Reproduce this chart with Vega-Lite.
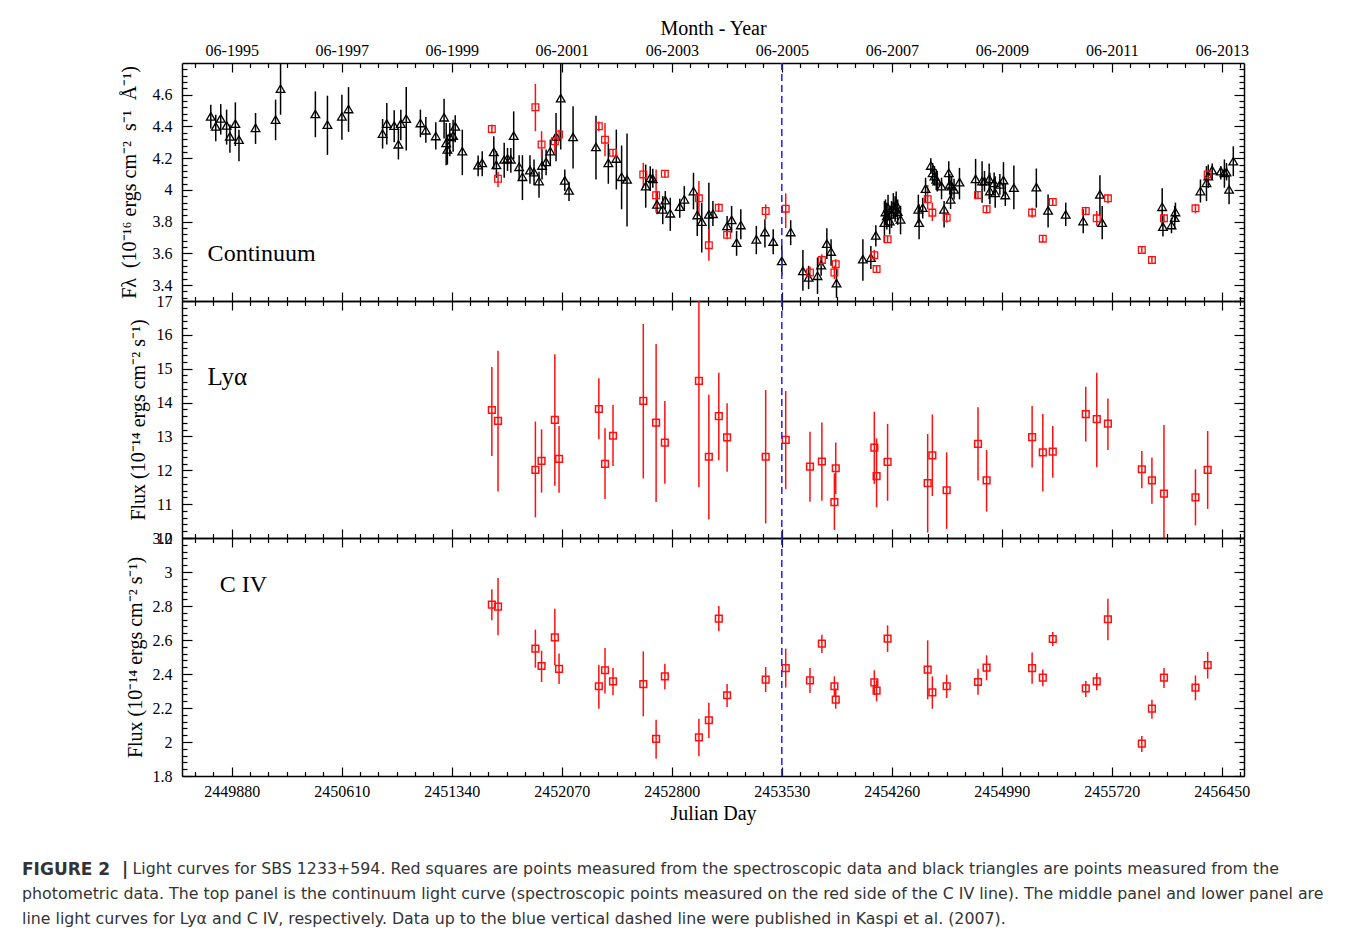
{
"$schema": "https://vega.github.io/schema/vega-lite/v6.json",
"background": "white",
"padding": {"left": 22, "top": 18, "right": 0, "bottom": 0},
"spacing": 0,
"bounds": "flush",
"config": {
  "view": {"stroke": null},
  "axis": {"domainColor": "black", "tickColor": "black", "labelColor": "black", "titleColor": "black", "labelFont": "Liberation Serif", "titleFont": "Liberation Serif", "labelFontSize": 16, "titleFontSize": 20, "titleFontWeight": "normal", "grid": false, "domainWidth": 1.5, "tickWidth": 1.2, "labelOverlap": false, "labelBound": false, "labelFlush": false}
},
"title": {
  "text": "FIGURE 2\u00a0\u00a0|",
  "subtitle": ["\u2060\u00a0\u00a0\u00a0\u00a0\u00a0\u00a0\u00a0\u00a0\u00a0\u00a0\u00a0\u00a0\u00a0\u00a0\u00a0\u00a0\u00a0\u00a0\u00a0\u00a0\u00a0\u00a0Light curves for SBS 1233+594. Red squares are points measured from the spectroscopic data and black triangles are points measured from the", "photometric data. The top panel is the continuum light curve (spectroscopic points measured on the red side of the C IV line). The middle panel and lower panel are", "line light curves for Ly\u03b1 and C IV, respectively. Data up to the blue vertical dashed line were published in Kaspi et al. (2007)."],
  "orient": "bottom", "anchor": "start", "frame": "bounds",
  "font": "DejaVu Sans", "fontSize": 17, "fontWeight": "bold", "color": "#333333",
  "subtitleFont": "DejaVu Sans", "subtitleFontSize": 15.8, "subtitleColor": "#333333", "subtitleLineHeight": 25, "subtitleFontWeight": "normal",
  "subtitlePadding": -17, "offset": 39, "dx": -97
},
"datasets": {
  "cont": [
{"jd":2449741,"f":4.464,"lo":4.387,"hi":4.537,"s":"phot"},
{"jd":2449774,"f":4.401,"lo":4.307,"hi":4.474,"s":"phot"},
{"jd":2449807,"f":4.451,"lo":4.349,"hi":4.541,"s":"phot"},
{"jd":2449846,"f":4.407,"lo":4.286,"hi":4.506,"s":"phot"},
{"jd":2449868,"f":4.338,"lo":4.234,"hi":4.412,"s":"phot"},
{"jd":2449904,"f":4.418,"lo":4.276,"hi":4.552,"s":"phot"},
{"jd":2449928,"f":4.317,"lo":4.181,"hi":4.380,"s":"phot"},
{"jd":2450038,"f":4.391,"lo":4.290,"hi":4.485,"s":"phot"},
{"jd":2450171,"f":4.443,"lo":4.313,"hi":4.569,"s":"phot"},
{"jd":2450204,"f":4.638,"lo":4.474,"hi":4.800,"s":"phot"},
{"jd":2450435,"f":4.479,"lo":4.332,"hi":4.621,"s":"phot"},
{"jd":2450515,"f":4.412,"lo":4.221,"hi":4.594,"s":"phot"},
{"jd":2450611,"f":4.464,"lo":4.317,"hi":4.600,"s":"phot"},
{"jd":2450655,"f":4.510,"lo":4.366,"hi":4.648,"s":"phot"},
{"jd":2450881,"f":4.355,"lo":4.261,"hi":4.447,"s":"phot"},
{"jd":2450909,"f":4.418,"lo":4.286,"hi":4.548,"s":"phot"},
{"jd":2450958,"f":4.405,"lo":4.301,"hi":4.502,"s":"phot"},
{"jd":2450986,"f":4.288,"lo":4.192,"hi":4.380,"s":"phot"},
{"jd":2451002,"f":4.418,"lo":4.313,"hi":4.506,"s":"phot"},
{"jd":2451038,"f":4.449,"lo":4.248,"hi":4.648,"s":"phot"},
{"jd":2451132,"f":4.422,"lo":4.332,"hi":4.506,"s":"phot"},
{"jd":2451168,"f":4.376,"lo":4.297,"hi":4.460,"s":"phot"},
{"jd":2451234,"f":4.340,"lo":4.255,"hi":4.426,"s":"phot"},
{"jd":2451289,"f":4.458,"lo":4.324,"hi":4.575,"s":"phot"},
{"jd":2451303,"f":4.296,"lo":4.156,"hi":4.422,"s":"phot"},
{"jd":2451311,"f":4.255,"lo":4.160,"hi":4.349,"s":"phot"},
{"jd":2451327,"f":4.334,"lo":4.213,"hi":4.422,"s":"phot"},
{"jd":2451349,"f":4.342,"lo":4.240,"hi":4.443,"s":"phot"},
{"jd":2451363,"f":4.401,"lo":4.301,"hi":4.470,"s":"phot"},
{"jd":2451410,"f":4.244,"lo":4.093,"hi":4.380,"s":"phot"},
{"jd":2451515,"f":4.156,"lo":4.087,"hi":4.217,"s":"phot"},
{"jd":2451542,"f":4.171,"lo":4.087,"hi":4.244,"s":"phot"},
{"jd":2451619,"f":4.240,"lo":4.129,"hi":4.338,"s":"phot"},
{"jd":2451636,"f":4.158,"lo":4.077,"hi":4.244,"s":"phot"},
{"jd":2451688,"f":4.192,"lo":4.077,"hi":4.297,"s":"phot"},
{"jd":2451710,"f":4.198,"lo":4.119,"hi":4.265,"s":"phot"},
{"jd":2451732,"f":4.192,"lo":4.108,"hi":4.265,"s":"phot"},
{"jd":2451751,"f":4.342,"lo":4.192,"hi":4.495,"s":"phot"},
{"jd":2451787,"f":4.146,"lo":4.066,"hi":4.219,"s":"phot"},
{"jd":2451809,"f":4.083,"lo":3.936,"hi":4.219,"s":"phot"},
{"jd":2451859,"f":4.125,"lo":4.039,"hi":4.219,"s":"phot"},
{"jd":2451886,"f":4.112,"lo":4.031,"hi":4.192,"s":"phot"},
{"jd":2451919,"f":4.056,"lo":3.951,"hi":4.114,"s":"phot"},
{"jd":2451939,"f":4.154,"lo":4.066,"hi":4.255,"s":"phot"},
{"jd":2451966,"f":4.177,"lo":4.093,"hi":4.255,"s":"phot"},
{"jd":2451994,"f":4.244,"lo":4.156,"hi":4.317,"s":"phot"},
{"jd":2452032,"f":4.338,"lo":4.181,"hi":4.485,"s":"phot"},
{"jd":2452063,"f":4.579,"lo":4.255,"hi":4.800,"s":"phot"},
{"jd":2452090,"f":4.060,"lo":3.993,"hi":4.129,"s":"phot"},
{"jd":2452118,"f":3.997,"lo":3.930,"hi":4.052,"s":"phot"},
{"jd":2452145,"f":4.334,"lo":4.135,"hi":4.527,"s":"phot"},
{"jd":2452297,"f":4.271,"lo":4.066,"hi":4.468,"s":"phot"},
{"jd":2452379,"f":4.171,"lo":4.039,"hi":4.290,"s":"phot"},
{"jd":2452432,"f":4.198,"lo":4.003,"hi":4.380,"s":"phot"},
{"jd":2452467,"f":4.083,"lo":3.878,"hi":4.280,"s":"phot"},
{"jd":2452503,"f":4.066,"lo":3.769,"hi":4.355,"s":"phot"},
{"jd":2452627,"f":4.024,"lo":3.888,"hi":4.160,"s":"phot"},
{"jd":2452657,"f":4.077,"lo":3.993,"hi":4.150,"s":"phot"},
{"jd":2452674,"f":4.070,"lo":4.014,"hi":4.133,"s":"phot"},
{"jd":2452702,"f":3.909,"lo":3.846,"hi":3.993,"s":"phot"},
{"jd":2452740,"f":3.878,"lo":3.784,"hi":3.961,"s":"phot"},
{"jd":2452757,"f":3.936,"lo":3.878,"hi":3.993,"s":"phot"},
{"jd":2452790,"f":3.853,"lo":3.742,"hi":3.951,"s":"phot"},
{"jd":2452853,"f":3.895,"lo":3.825,"hi":3.945,"s":"phot"},
{"jd":2452883,"f":3.941,"lo":3.867,"hi":4.024,"s":"phot"},
{"jd":2452944,"f":3.993,"lo":3.878,"hi":4.108,"s":"phot"},
{"jd":2452969,"f":3.842,"lo":3.710,"hi":3.982,"s":"phot"},
{"jd":2452999,"f":3.800,"lo":3.606,"hi":3.920,"s":"phot"},
{"jd":2453046,"f":3.846,"lo":3.668,"hi":4.045,"s":"phot"},
{"jd":2453073,"f":3.850,"lo":3.773,"hi":3.930,"s":"phot"},
{"jd":2453167,"f":3.773,"lo":3.710,"hi":3.836,"s":"phot"},
{"jd":2453197,"f":3.811,"lo":3.731,"hi":3.899,"s":"phot"},
{"jd":2453230,"f":3.668,"lo":3.585,"hi":3.742,"s":"phot"},
{"jd":2453258,"f":3.779,"lo":3.689,"hi":3.878,"s":"phot"},
{"jd":2453361,"f":3.689,"lo":3.595,"hi":3.773,"s":"phot"},
{"jd":2453418,"f":3.735,"lo":3.637,"hi":3.815,"s":"phot"},
{"jd":2453473,"f":3.675,"lo":3.595,"hi":3.752,"s":"phot"},
{"jd":2453530,"f":3.553,"lo":3.460,"hi":3.650,"s":"phot"},
{"jd":2453589,"f":3.735,"lo":3.652,"hi":3.809,"s":"phot"},
{"jd":2453670,"f":3.490,"lo":3.365,"hi":3.622,"s":"phot"},
{"jd":2453708,"f":3.449,"lo":3.375,"hi":3.522,"s":"phot"},
{"jd":2453767,"f":3.459,"lo":3.344,"hi":3.574,"s":"phot"},
{"jd":2453791,"f":3.526,"lo":3.459,"hi":3.585,"s":"phot"},
{"jd":2453829,"f":3.662,"lo":3.564,"hi":3.758,"s":"phot"},
{"jd":2453857,"f":3.612,"lo":3.522,"hi":3.689,"s":"phot"},
{"jd":2453893,"f":3.413,"lo":3.320,"hi":3.501,"s":"phot"},
{"jd":2454068,"f":3.564,"lo":3.428,"hi":3.689,"s":"phot"},
{"jd":2454121,"f":3.574,"lo":3.501,"hi":3.647,"s":"phot"},
{"jd":2454154,"f":3.714,"lo":3.643,"hi":3.777,"s":"phot"},
{"jd":2454211,"f":3.794,"lo":3.668,"hi":3.930,"s":"phot"},
{"jd":2454218,"f":3.861,"lo":3.780,"hi":3.940,"s":"phot"},
{"jd":2454227,"f":3.836,"lo":3.750,"hi":3.920,"s":"phot"},
{"jd":2454235,"f":3.888,"lo":3.810,"hi":3.970,"s":"phot"},
{"jd":2454246,"f":3.804,"lo":3.720,"hi":3.890,"s":"phot"},
{"jd":2454258,"f":3.846,"lo":3.760,"hi":3.930,"s":"phot"},
{"jd":2454270,"f":3.899,"lo":3.820,"hi":3.980,"s":"phot"},
{"jd":2454282,"f":3.878,"lo":3.800,"hi":3.960,"s":"phot"},
{"jd":2454289,"f":3.909,"lo":3.830,"hi":3.990,"s":"phot"},
{"jd":2454299,"f":3.863,"lo":3.780,"hi":3.940,"s":"phot"},
{"jd":2454318,"f":3.815,"lo":3.720,"hi":3.900,"s":"phot"},
{"jd":2454436,"f":3.878,"lo":3.790,"hi":3.970,"s":"phot"},
{"jd":2454441,"f":3.794,"lo":3.689,"hi":3.909,"s":"phot"},
{"jd":2454465,"f":3.888,"lo":3.820,"hi":3.950,"s":"phot"},
{"jd":2454484,"f":4.008,"lo":3.920,"hi":4.077,"s":"phot"},
{"jd":2454519,"f":4.154,"lo":4.100,"hi":4.200,"s":"phot"},
{"jd":2454531,"f":4.108,"lo":4.050,"hi":4.170,"s":"phot"},
{"jd":2454543,"f":4.087,"lo":4.030,"hi":4.150,"s":"phot"},
{"jd":2454555,"f":4.066,"lo":4.000,"hi":4.130,"s":"phot"},
{"jd":2454562,"f":4.056,"lo":3.990,"hi":4.120,"s":"phot"},
{"jd":2454590,"f":4.024,"lo":3.941,"hi":4.077,"s":"phot"},
{"jd":2454607,"f":3.878,"lo":3.763,"hi":3.930,"s":"phot"},
{"jd":2454638,"f":4.108,"lo":4.030,"hi":4.180,"s":"phot"},
{"jd":2454645,"f":4.035,"lo":3.970,"hi":4.100,"s":"phot"},
{"jd":2454650,"f":3.941,"lo":3.880,"hi":4.000,"s":"phot"},
{"jd":2454657,"f":4.024,"lo":3.960,"hi":4.090,"s":"phot"},
{"jd":2454673,"f":4.003,"lo":3.940,"hi":4.070,"s":"phot"},
{"jd":2454709,"f":4.049,"lo":3.941,"hi":4.139,"s":"phot"},
{"jd":2454816,"f":4.070,"lo":3.941,"hi":4.196,"s":"phot"},
{"jd":2454859,"f":4.056,"lo":3.920,"hi":4.181,"s":"phot"},
{"jd":2454875,"f":4.056,"lo":3.990,"hi":4.120,"s":"phot"},
{"jd":2454906,"f":4.070,"lo":3.941,"hi":4.167,"s":"phot"},
{"jd":2454911,"f":3.993,"lo":3.909,"hi":4.108,"s":"phot"},
{"jd":2454939,"f":4.045,"lo":3.980,"hi":4.110,"s":"phot"},
{"jd":2454946,"f":3.982,"lo":3.888,"hi":4.087,"s":"phot"},
{"jd":2454977,"f":4.035,"lo":3.970,"hi":4.100,"s":"phot"},
{"jd":2455001,"f":4.062,"lo":3.961,"hi":4.175,"s":"phot"},
{"jd":2455013,"f":3.968,"lo":3.899,"hi":4.045,"s":"phot"},
{"jd":2455070,"f":4.014,"lo":3.878,"hi":4.154,"s":"phot"},
{"jd":2455219,"f":4.018,"lo":3.888,"hi":4.135,"s":"phot"},
{"jd":2455297,"f":3.871,"lo":3.763,"hi":3.972,"s":"phot"},
{"jd":2455414,"f":3.846,"lo":3.773,"hi":3.920,"s":"phot"},
{"jd":2455530,"f":3.804,"lo":3.727,"hi":3.878,"s":"phot"},
{"jd":2455641,"f":3.972,"lo":3.836,"hi":4.093,"s":"phot"},
{"jd":2455656,"f":3.794,"lo":3.689,"hi":3.899,"s":"phot"},
{"jd":2456054,"f":3.894,"lo":3.773,"hi":4.010,"s":"phot"},
{"jd":2456059,"f":3.769,"lo":3.706,"hi":3.836,"s":"phot"},
{"jd":2456116,"f":3.779,"lo":3.727,"hi":3.825,"s":"phot"},
{"jd":2456137,"f":3.825,"lo":3.752,"hi":3.899,"s":"phot"},
{"jd":2456142,"f":3.861,"lo":3.800,"hi":3.920,"s":"phot"},
{"jd":2456308,"f":3.993,"lo":3.920,"hi":4.066,"s":"phot"},
{"jd":2456348,"f":4.045,"lo":3.930,"hi":4.150,"s":"phot"},
{"jd":2456360,"f":4.087,"lo":4.014,"hi":4.160,"s":"phot"},
{"jd":2456386,"f":4.125,"lo":4.066,"hi":4.167,"s":"phot"},
{"jd":2456443,"f":4.119,"lo":4.066,"hi":4.150,"s":"phot"},
{"jd":2456467,"f":4.108,"lo":4.014,"hi":4.192,"s":"phot"},
{"jd":2456481,"f":4.112,"lo":4.060,"hi":4.170,"s":"phot"},
{"jd":2456498,"f":4.003,"lo":3.909,"hi":4.087,"s":"phot"},
{"jd":2456526,"f":4.181,"lo":4.087,"hi":4.275,"s":"phot"},
{"jd":2451606,"f":4.384,"lo":4.355,"hi":4.412,"s":"spec"},
{"jd":2451647,"f":4.070,"lo":4.018,"hi":4.114,"s":"spec"},
{"jd":2451895,"f":4.521,"lo":4.370,"hi":4.669,"s":"spec"},
{"jd":2451936,"f":4.286,"lo":4.202,"hi":4.370,"s":"spec"},
{"jd":2452024,"f":4.307,"lo":4.234,"hi":4.349,"s":"spec"},
{"jd":2452052,"f":4.349,"lo":4.307,"hi":4.380,"s":"spec"},
{"jd":2452316,"f":4.401,"lo":4.370,"hi":4.432,"s":"spec"},
{"jd":2452357,"f":4.317,"lo":4.213,"hi":4.422,"s":"spec"},
{"jd":2452410,"f":4.234,"lo":4.209,"hi":4.255,"s":"spec"},
{"jd":2452611,"f":4.098,"lo":4.014,"hi":4.171,"s":"spec"},
{"jd":2452696,"f":3.966,"lo":3.857,"hi":4.129,"s":"spec"},
{"jd":2452754,"f":4.102,"lo":4.077,"hi":4.123,"s":"spec"},
{"jd":2452980,"f":3.947,"lo":3.836,"hi":4.056,"s":"spec"},
{"jd":2453046,"f":3.652,"lo":3.553,"hi":3.753,"s":"spec"},
{"jd":2453112,"f":3.888,"lo":3.861,"hi":3.915,"s":"spec"},
{"jd":2453167,"f":3.717,"lo":3.689,"hi":3.742,"s":"spec"},
{"jd":2453423,"f":3.867,"lo":3.815,"hi":3.909,"s":"spec"},
{"jd":2453556,"f":3.882,"lo":3.760,"hi":3.978,"s":"spec"},
{"jd":2453717,"f":3.480,"lo":3.443,"hi":3.518,"s":"spec"},
{"jd":2453796,"f":3.559,"lo":3.522,"hi":3.595,"s":"spec"},
{"jd":2453879,"f":3.480,"lo":3.438,"hi":3.522,"s":"spec"},
{"jd":2453888,"f":3.532,"lo":3.501,"hi":3.564,"s":"spec"},
{"jd":2454144,"f":3.589,"lo":3.553,"hi":3.622,"s":"spec"},
{"jd":2454159,"f":3.501,"lo":3.480,"hi":3.520,"s":"spec"},
{"jd":2454232,"f":3.689,"lo":3.668,"hi":3.710,"s":"spec"},
{"jd":2454498,"f":3.941,"lo":3.878,"hi":4.031,"s":"spec"},
{"jd":2454529,"f":3.857,"lo":3.804,"hi":3.920,"s":"spec"},
{"jd":2454624,"f":3.825,"lo":3.794,"hi":3.846,"s":"spec"},
{"jd":2454832,"f":3.968,"lo":3.941,"hi":3.993,"s":"spec"},
{"jd":2454889,"f":3.878,"lo":3.852,"hi":3.903,"s":"spec"},
{"jd":2455191,"f":3.857,"lo":3.825,"hi":3.888,"s":"spec"},
{"jd":2455262,"f":3.693,"lo":3.672,"hi":3.710,"s":"spec"},
{"jd":2455328,"f":3.924,"lo":3.903,"hi":3.941,"s":"spec"},
{"jd":2455547,"f":3.867,"lo":3.840,"hi":3.894,"s":"spec"},
{"jd":2455620,"f":3.821,"lo":3.773,"hi":3.867,"s":"spec"},
{"jd":2455694,"f":3.947,"lo":3.915,"hi":3.972,"s":"spec"},
{"jd":2455919,"f":3.622,"lo":3.606,"hi":3.643,"s":"spec"},
{"jd":2455986,"f":3.559,"lo":3.543,"hi":3.580,"s":"spec"},
{"jd":2456066,"f":3.821,"lo":3.794,"hi":3.846,"s":"spec"},
{"jd":2456275,"f":3.884,"lo":3.852,"hi":3.909,"s":"spec"},
{"jd":2456356,"f":4.098,"lo":4.066,"hi":4.119,"s":"spec"}
  ],
  "lya": [
{"jd":2451606,"f":13.78,"lo":12.42,"hi":15.05},
{"jd":2451647,"f":13.46,"lo":11.37,"hi":15.53},
{"jd":2451895,"f":12.01,"lo":10.61,"hi":13.44},
{"jd":2451936,"f":12.28,"lo":11.34,"hi":13.21},
{"jd":2452024,"f":13.49,"lo":11.54,"hi":15.43},
{"jd":2452052,"f":12.34,"lo":11.34,"hi":13.31},
{"jd":2452316,"f":13.81,"lo":12.92,"hi":14.72},
{"jd":2452357,"f":12.19,"lo":11.15,"hi":13.24},
{"jd":2452410,"f":13.02,"lo":12.13,"hi":13.93},
{"jd":2452611,"f":14.05,"lo":11.76,"hi":16.32},
{"jd":2452696,"f":13.41,"lo":11.06,"hi":15.73},
{"jd":2452754,"f":12.82,"lo":11.60,"hi":14.05},
{"jd":2452980,"f":14.64,"lo":11.50,"hi":17.0},
{"jd":2453046,"f":12.40,"lo":10.55,"hi":14.23},
{"jd":2453112,"f":13.60,"lo":12.30,"hi":14.88},
{"jd":2453167,"f":12.97,"lo":11.96,"hi":13.98},
{"jd":2453423,"f":12.40,"lo":10.43,"hi":14.37},
{"jd":2453556,"f":12.90,"lo":11.44,"hi":14.34},
{"jd":2453717,"f":12.11,"lo":11.07,"hi":13.14},
{"jd":2453796,"f":12.26,"lo":11.10,"hi":13.41},
{"jd":2453879,"f":11.06,"lo":10.24,"hi":11.91},
{"jd":2453888,"f":12.06,"lo":11.30,"hi":12.82},
{"jd":2454144,"f":12.67,"lo":11.60,"hi":13.73},
{"jd":2454159,"f":11.83,"lo":10.91,"hi":12.94},
{"jd":2454232,"f":12.25,"lo":11.10,"hi":13.37},
{"jd":2454498,"f":11.62,"lo":10.16,"hi":13.07},
{"jd":2454529,"f":12.44,"lo":11.24,"hi":13.65},
{"jd":2454624,"f":11.41,"lo":10.27,"hi":12.53},
{"jd":2454832,"f":12.78,"lo":11.70,"hi":13.86},
{"jd":2454889,"f":11.70,"lo":10.78,"hi":12.60},
{"jd":2455191,"f":12.98,"lo":12.08,"hi":13.90},
{"jd":2455262,"f":12.53,"lo":11.37,"hi":13.66},
{"jd":2455328,"f":12.55,"lo":11.78,"hi":13.31},
{"jd":2455547,"f":13.66,"lo":12.85,"hi":14.47},
{"jd":2455620,"f":13.51,"lo":12.09,"hi":14.88},
{"jd":2455694,"f":13.38,"lo":12.60,"hi":14.12},
{"jd":2455919,"f":12.03,"lo":11.47,"hi":12.57},
{"jd":2455986,"f":11.70,"lo":11.01,"hi":12.38},
{"jd":2456066,"f":11.31,"lo":10.00,"hi":13.34},
{"jd":2456275,"f":11.20,"lo":10.37,"hi":12.03},
{"jd":2456356,"f":12.01,"lo":10.86,"hi":13.16}
  ],
  "civ": [
{"jd":2451606,"f":2.808,"lo":2.716,"hi":2.898},
{"jd":2451647,"f":2.796,"lo":2.628,"hi":2.965},
{"jd":2451895,"f":2.549,"lo":2.437,"hi":2.661},
{"jd":2451936,"f":2.447,"lo":2.353,"hi":2.537},
{"jd":2452024,"f":2.616,"lo":2.451,"hi":2.784},
{"jd":2452052,"f":2.430,"lo":2.341,"hi":2.520},
{"jd":2452316,"f":2.328,"lo":2.196,"hi":2.455},
{"jd":2452357,"f":2.422,"lo":2.286,"hi":2.553},
{"jd":2452410,"f":2.357,"lo":2.275,"hi":2.435},
{"jd":2452611,"f":2.341,"lo":2.151,"hi":2.533},
{"jd":2452696,"f":2.018,"lo":1.902,"hi":2.131},
{"jd":2452754,"f":2.386,"lo":2.310,"hi":2.461},
{"jd":2452980,"f":2.027,"lo":1.916,"hi":2.137},
{"jd":2453046,"f":2.128,"lo":2.024,"hi":2.231},
{"jd":2453112,"f":2.726,"lo":2.651,"hi":2.800},
{"jd":2453167,"f":2.275,"lo":2.206,"hi":2.341},
{"jd":2453423,"f":2.367,"lo":2.294,"hi":2.441},
{"jd":2453556,"f":2.435,"lo":2.320,"hi":2.549},
{"jd":2453717,"f":2.363,"lo":2.288,"hi":2.435},
{"jd":2453796,"f":2.579,"lo":2.524,"hi":2.631},
{"jd":2453879,"f":2.328,"lo":2.265,"hi":2.386},
{"jd":2453888,"f":2.249,"lo":2.196,"hi":2.314},
{"jd":2454144,"f":2.351,"lo":2.278,"hi":2.422},
{"jd":2454159,"f":2.302,"lo":2.239,"hi":2.363},
{"jd":2454232,"f":2.608,"lo":2.530,"hi":2.686},
{"jd":2454498,"f":2.426,"lo":2.251,"hi":2.598},
{"jd":2454529,"f":2.292,"lo":2.196,"hi":2.386},
{"jd":2454624,"f":2.328,"lo":2.259,"hi":2.396},
{"jd":2454832,"f":2.353,"lo":2.278,"hi":2.431},
{"jd":2454889,"f":2.437,"lo":2.363,"hi":2.510},
{"jd":2455191,"f":2.435,"lo":2.343,"hi":2.526},
{"jd":2455262,"f":2.379,"lo":2.328,"hi":2.427},
{"jd":2455328,"f":2.606,"lo":2.565,"hi":2.647},
{"jd":2455547,"f":2.316,"lo":2.265,"hi":2.359},
{"jd":2455620,"f":2.357,"lo":2.304,"hi":2.406},
{"jd":2455694,"f":2.722,"lo":2.598,"hi":2.843},
{"jd":2455919,"f":1.990,"lo":1.941,"hi":2.035},
{"jd":2455986,"f":2.196,"lo":2.137,"hi":2.249},
{"jd":2456066,"f":2.379,"lo":2.318,"hi":2.435},
{"jd":2456275,"f":2.320,"lo":2.245,"hi":2.392},
{"jd":2456356,"f":2.453,"lo":2.373,"hi":2.530}
  ]
},
"vconcat": [
{
  "width": 1062, "height": 238,
  "resolve": {"axis": {"x": "independent", "y": "independent"}},
  "layer": [
    {
      "data": {"name": "cont"},
      "mark": {"type": "rule", "strokeWidth": 1.5, "clip": true},
      "encoding": {
        "x": {"field": "jd", "type": "quantitative", "scale": {"domain": [2449550, 2456597], "nice": false, "zero": false}, "axis": {"orient": "bottom", "values": [2449880,2450610,2451340,2452070,2452800,2453530,2454260,2454990,2455720,2456450], "tickSize": -9, "labels": false, "title": null}},
        "y": {"field": "lo", "type": "quantitative", "scale": {"domain": [3.3, 4.8], "nice": false, "zero": false}, "axis": {"orient": "left", "values": [3.4,3.6,3.8,4,4.2,4.4,4.6], "tickSize": -10, "format": "~g", "labelPadding": 20, "title": "F\u03bb\u00a0\u00a0(10\u207b\u00b9\u2076\u00a0ergs\u00a0cm\u207b\u00b2\u00a0\u00a0s\u207b\u00b9\u00a0\u00a0\u00c5\u207b\u00b9)", "titlePadding": 13}},
        "y2": {"field": "hi"},
        "color": {"field": "s", "type": "nominal", "scale": {"domain": ["phot", "spec"], "range": ["#000000", "#ff1010"]}, "legend": null}
      }
    },
    {
      "data": {"name": "cont"},
      "mark": {"type": "point", "filled": false, "strokeWidth": 1.3, "opacity": 1},
      "encoding": {
        "x": {"field": "jd", "type": "quantitative", "scale": {"domain": [2449550, 2456597], "nice": false, "zero": false}, "axis": {"orient": "top", "values": [2449880,2450610,2451340,2452070,2452800,2453530,2454260,2454990,2455720,2456450], "tickSize": -9, "labelExpr": "'06-' + (1995 + 2 * round((datum.value - 2449880) / 730))", "labelPadding": 14, "title": "Month - Year", "titlePadding": 4}},
        "y": {"field": "f", "type": "quantitative", "scale": {"domain": [3.3, 4.8], "nice": false, "zero": false}, "axis": {"orient": "right", "values": [3.4,3.6,3.8,4,4.2,4.4,4.6], "tickSize": -10, "labels": false, "title": null}},
        "color": {"field": "s", "type": "nominal", "scale": {"domain": ["phot", "spec"], "range": ["#000000", "#ff1010"]}, "legend": null},
        "shape": {"field": "s", "type": "nominal", "scale": {"domain": ["phot", "spec"], "range": ["triangle-up", "square"]}, "legend": null},
        "size": {"field": "s", "type": "nominal", "scale": {"domain": ["phot", "spec"], "range": [75, 45]}, "legend": null}
      }
    },
    {
      "data": {"values": [{"jd": 2449720, "f": 3.595, "label": "Continuum"}]},
      "mark": {"type": "text", "align": "left", "baseline": "middle", "font": "Liberation Serif", "fontSize": 24, "color": "black"},
      "encoding": {
        "x": {"field": "jd", "type": "quantitative", "scale": {"domain": [2449550, 2456597], "nice": false, "zero": false}, "axis": {"orient": "bottom", "values": [2449636.67,2449758.33,2450001.67,2450123.33,2450245,2450366.67,2450488.33,2450731.67,2450853.33,2450975,2451096.67,2451218.33,2451461.67,2451583.33,2451705,2451826.67,2451948.33,2452191.67,2452313.33,2452435,2452556.67,2452678.33,2452921.67,2453043.33,2453165,2453286.67,2453408.33,2453651.67,2453773.33,2453895,2454016.67,2454138.33,2454381.67,2454503.33,2454625,2454746.67,2454868.33,2455111.67,2455233.33,2455355,2455476.67,2455598.33,2455841.67,2455963.33,2456085,2456206.67,2456328.33,2456571.67], "tickSize": -4.5, "labels": false, "domain": false, "title": null}},
        "y": {"field": "f", "type": "quantitative", "scale": {"domain": [3.3, 4.8], "nice": false, "zero": false}, "axis": {"orient": "left", "values": [3.32,3.36,3.44,3.48,3.52,3.56,3.64,3.68,3.72,3.76,3.84,3.88,3.92,3.96,4.04,4.08,4.12,4.16,4.24,4.28,4.32,4.36,4.44,4.48,4.52,4.56,4.64,4.68,4.72,4.76], "tickSize": -5, "labels": false, "domain": false, "title": null}},
        "text": {"field": "label"}
      }
    },
    {
      "data": {"values": [{"jd": 2453530, "lo": 3.3, "hi": 4.8}]},
      "mark": {"type": "rule", "color": "#2b2bff", "strokeWidth": 1.6, "strokeDash": [7, 4]},
      "encoding": {
        "x": {"field": "jd", "type": "quantitative", "scale": {"domain": [2449550, 2456597], "nice": false, "zero": false}, "axis": {"orient": "top", "values": [2449636.67,2449758.33,2450001.67,2450123.33,2450245,2450366.67,2450488.33,2450731.67,2450853.33,2450975,2451096.67,2451218.33,2451461.67,2451583.33,2451705,2451826.67,2451948.33,2452191.67,2452313.33,2452435,2452556.67,2452678.33,2452921.67,2453043.33,2453165,2453286.67,2453408.33,2453651.67,2453773.33,2453895,2454016.67,2454138.33,2454381.67,2454503.33,2454625,2454746.67,2454868.33,2455111.67,2455233.33,2455355,2455476.67,2455598.33,2455841.67,2455963.33,2456085,2456206.67,2456328.33,2456571.67], "tickSize": -4.5, "labels": false, "domain": false, "title": null}},
        "y": {"field": "lo", "type": "quantitative", "scale": {"domain": [3.3, 4.8], "nice": false, "zero": false}, "axis": {"orient": "right", "values": [3.32,3.36,3.44,3.48,3.52,3.56,3.64,3.68,3.72,3.76,3.84,3.88,3.92,3.96,4.04,4.08,4.12,4.16,4.24,4.28,4.32,4.36,4.44,4.48,4.52,4.56,4.64,4.68,4.72,4.76], "tickSize": -5, "labels": false, "domain": false, "title": null}},
        "y2": {"field": "hi"}
      }
    }
  ]
},
{
  "width": 1062, "height": 237,
  "resolve": {"axis": {"x": "independent", "y": "independent"}},
  "layer": [
    {
      "data": {"name": "lya"},
      "mark": {"type": "rule", "strokeWidth": 1.5, "color": "#ff1010", "clip": true},
      "encoding": {
        "x": {"field": "jd", "type": "quantitative", "scale": {"domain": [2449550, 2456597], "nice": false, "zero": false}, "axis": {"orient": "bottom", "values": [2449880,2450610,2451340,2452070,2452800,2453530,2454260,2454990,2455720,2456450], "tickSize": -9, "labels": false, "title": null}},
        "y": {"field": "lo", "type": "quantitative", "scale": {"domain": [10, 17], "nice": false, "zero": false}, "axis": {"orient": "left", "values": [10,11,12,13,14,15,16,17], "tickSize": -10, "format": "~g", "labelPadding": 20, "title": "Flux (10\u207b\u00b9\u2074 ergs cm\u207b\u00b2 s\u207b\u00b9)", "titlePadding": 8}},
        "y2": {"field": "hi"}
      }
    },
    {
      "data": {"name": "lya"},
      "mark": {"type": "point", "shape": "square", "filled": false, "strokeWidth": 1.5, "size": 45, "color": "#ff1010", "opacity": 1},
      "encoding": {
        "x": {"field": "jd", "type": "quantitative", "scale": {"domain": [2449550, 2456597], "nice": false, "zero": false}, "axis": {"orient": "top", "values": [2449880,2450610,2451340,2452070,2452800,2453530,2454260,2454990,2455720,2456450], "tickSize": -9, "labels": false, "title": null}},
        "y": {"field": "f", "type": "quantitative", "scale": {"domain": [10, 17], "nice": false, "zero": false}, "axis": {"orient": "right", "values": [10,11,12,13,14,15,16,17], "tickSize": -10, "labels": false, "title": null}}
      }
    },
    {
      "data": {"values": [{"jd": 2449720, "f": 14.76, "label": "Ly\u03b1"}]},
      "mark": {"type": "text", "align": "left", "baseline": "middle", "font": "Liberation Serif", "fontSize": 25, "color": "black"},
      "encoding": {
        "x": {"field": "jd", "type": "quantitative", "scale": {"domain": [2449550, 2456597], "nice": false, "zero": false}, "axis": {"orient": "bottom", "values": [2449636.67,2449758.33,2450001.67,2450123.33,2450245,2450366.67,2450488.33,2450731.67,2450853.33,2450975,2451096.67,2451218.33,2451461.67,2451583.33,2451705,2451826.67,2451948.33,2452191.67,2452313.33,2452435,2452556.67,2452678.33,2452921.67,2453043.33,2453165,2453286.67,2453408.33,2453651.67,2453773.33,2453895,2454016.67,2454138.33,2454381.67,2454503.33,2454625,2454746.67,2454868.33,2455111.67,2455233.33,2455355,2455476.67,2455598.33,2455841.67,2455963.33,2456085,2456206.67,2456328.33,2456571.67], "tickSize": -4.5, "labels": false, "domain": false, "title": null}},
        "y": {"field": "f", "type": "quantitative", "scale": {"domain": [10, 17], "nice": false, "zero": false}, "axis": {"orient": "left", "values": [10.2,10.4,10.6,10.8,11.2,11.4,11.6,11.8,12.2,12.4,12.6,12.8,13.2,13.4,13.6,13.8,14.2,14.4,14.6,14.8,15.2,15.4,15.6,15.8,16.2,16.4,16.6,16.8], "tickSize": -5, "labels": false, "domain": false, "title": null}},
        "text": {"field": "label"}
      }
    },
    {
      "data": {"values": [{"jd": 2453530, "lo": 10, "hi": 17}]},
      "mark": {"type": "rule", "color": "#2b2bff", "strokeWidth": 1.6, "strokeDash": [7, 4]},
      "encoding": {
        "x": {"field": "jd", "type": "quantitative", "scale": {"domain": [2449550, 2456597], "nice": false, "zero": false}, "axis": {"orient": "top", "values": [2449636.67,2449758.33,2450001.67,2450123.33,2450245,2450366.67,2450488.33,2450731.67,2450853.33,2450975,2451096.67,2451218.33,2451461.67,2451583.33,2451705,2451826.67,2451948.33,2452191.67,2452313.33,2452435,2452556.67,2452678.33,2452921.67,2453043.33,2453165,2453286.67,2453408.33,2453651.67,2453773.33,2453895,2454016.67,2454138.33,2454381.67,2454503.33,2454625,2454746.67,2454868.33,2455111.67,2455233.33,2455355,2455476.67,2455598.33,2455841.67,2455963.33,2456085,2456206.67,2456328.33,2456571.67], "tickSize": -4.5, "labels": false, "domain": false, "title": null}},
        "y": {"field": "lo", "type": "quantitative", "scale": {"domain": [10, 17], "nice": false, "zero": false}, "axis": {"orient": "right", "values": [10.2,10.4,10.6,10.8,11.2,11.4,11.6,11.8,12.2,12.4,12.6,12.8,13.2,13.4,13.6,13.8,14.2,14.4,14.6,14.8,15.2,15.4,15.6,15.8,16.2,16.4,16.6,16.8], "tickSize": -5, "labels": false, "domain": false, "title": null}},
        "y2": {"field": "hi"}
      }
    }
  ]
},
{
  "width": 1062, "height": 238,
  "resolve": {"axis": {"x": "independent", "y": "independent"}},
  "layer": [
    {
      "data": {"name": "civ"},
      "mark": {"type": "rule", "strokeWidth": 1.5, "color": "#ff1010", "clip": true},
      "encoding": {
        "x": {"field": "jd", "type": "quantitative", "scale": {"domain": [2449550, 2456597], "nice": false, "zero": false}, "axis": {"orient": "bottom", "values": [2449880,2450610,2451340,2452070,2452800,2453530,2454260,2454990,2455720,2456450], "tickSize": -9, "format": "d", "labelPadding": 16, "title": "Julian Day", "titlePadding": 4}},
        "y": {"field": "lo", "type": "quantitative", "scale": {"domain": [1.8, 3.2], "nice": false, "zero": false}, "axis": {"orient": "left", "values": [1.8,2,2.2,2.4,2.6,2.8,3,3.2], "tickSize": -10, "format": "~g", "labelPadding": 20, "title": "Flux (10\u207b\u00b9\u2074 ergs cm\u207b\u00b2 s\u207b\u00b9)", "titlePadding": 7}},
        "y2": {"field": "hi"}
      }
    },
    {
      "data": {"name": "civ"},
      "mark": {"type": "point", "shape": "square", "filled": false, "strokeWidth": 1.5, "size": 45, "color": "#ff1010", "opacity": 1},
      "encoding": {
        "x": {"field": "jd", "type": "quantitative", "scale": {"domain": [2449550, 2456597], "nice": false, "zero": false}, "axis": {"orient": "top", "values": [2449880,2450610,2451340,2452070,2452800,2453530,2454260,2454990,2455720,2456450], "tickSize": -9, "labels": false, "title": null}},
        "y": {"field": "f", "type": "quantitative", "scale": {"domain": [1.8, 3.2], "nice": false, "zero": false}, "axis": {"orient": "right", "values": [1.8,2,2.2,2.4,2.6,2.8,3,3.2], "tickSize": -10, "labels": false, "title": null}}
      }
    },
    {
      "data": {"values": [{"jd": 2449800, "f": 2.924, "label": "C IV"}]},
      "mark": {"type": "text", "align": "left", "baseline": "middle", "font": "Liberation Serif", "fontSize": 24, "color": "black"},
      "encoding": {
        "x": {"field": "jd", "type": "quantitative", "scale": {"domain": [2449550, 2456597], "nice": false, "zero": false}, "axis": {"orient": "bottom", "values": [2449636.67,2449758.33,2450001.67,2450123.33,2450245,2450366.67,2450488.33,2450731.67,2450853.33,2450975,2451096.67,2451218.33,2451461.67,2451583.33,2451705,2451826.67,2451948.33,2452191.67,2452313.33,2452435,2452556.67,2452678.33,2452921.67,2453043.33,2453165,2453286.67,2453408.33,2453651.67,2453773.33,2453895,2454016.67,2454138.33,2454381.67,2454503.33,2454625,2454746.67,2454868.33,2455111.67,2455233.33,2455355,2455476.67,2455598.33,2455841.67,2455963.33,2456085,2456206.67,2456328.33,2456571.67], "tickSize": -4.5, "labels": false, "domain": false, "title": null}},
        "y": {"field": "f", "type": "quantitative", "scale": {"domain": [1.8, 3.2], "nice": false, "zero": false}, "axis": {"orient": "left", "values": [1.84,1.88,1.92,1.96,2.04,2.08,2.12,2.16,2.24,2.28,2.32,2.36,2.44,2.48,2.52,2.56,2.64,2.68,2.72,2.76,2.84,2.88,2.92,2.96,3.04,3.08,3.12,3.16], "tickSize": -5, "labels": false, "domain": false, "title": null}},
        "text": {"field": "label"}
      }
    },
    {
      "data": {"values": [{"jd": 2453530, "lo": 1.8, "hi": 3.2}]},
      "mark": {"type": "rule", "color": "#2b2bff", "strokeWidth": 1.6, "strokeDash": [7, 4]},
      "encoding": {
        "x": {"field": "jd", "type": "quantitative", "scale": {"domain": [2449550, 2456597], "nice": false, "zero": false}, "axis": {"orient": "top", "values": [2449636.67,2449758.33,2450001.67,2450123.33,2450245,2450366.67,2450488.33,2450731.67,2450853.33,2450975,2451096.67,2451218.33,2451461.67,2451583.33,2451705,2451826.67,2451948.33,2452191.67,2452313.33,2452435,2452556.67,2452678.33,2452921.67,2453043.33,2453165,2453286.67,2453408.33,2453651.67,2453773.33,2453895,2454016.67,2454138.33,2454381.67,2454503.33,2454625,2454746.67,2454868.33,2455111.67,2455233.33,2455355,2455476.67,2455598.33,2455841.67,2455963.33,2456085,2456206.67,2456328.33,2456571.67], "tickSize": -4.5, "labels": false, "domain": false, "title": null}},
        "y": {"field": "lo", "type": "quantitative", "scale": {"domain": [1.8, 3.2], "nice": false, "zero": false}, "axis": {"orient": "right", "values": [1.84,1.88,1.92,1.96,2.04,2.08,2.12,2.16,2.24,2.28,2.32,2.36,2.44,2.48,2.52,2.56,2.64,2.68,2.72,2.76,2.84,2.88,2.92,2.96,3.04,3.08,3.12,3.16], "tickSize": -5, "labels": false, "domain": false, "title": null}},
        "y2": {"field": "hi"}
      }
    }
  ]
}
]
}
